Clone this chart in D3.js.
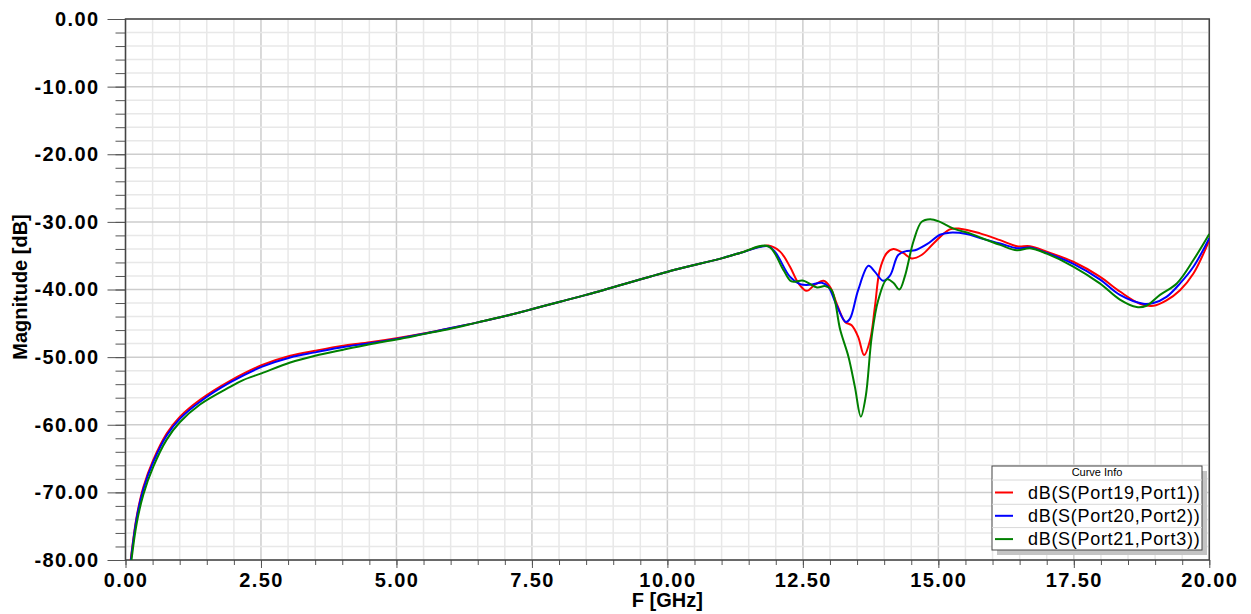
<!DOCTYPE html>
<html>
<head>
<meta charset="utf-8">
<script src="https://cdn.jsdelivr.net/npm/d3@7"></script>
<style>
  body { margin: 0; background: #fff; }
  svg { display: block; font-family: "Liberation Sans", Arial, sans-serif; }
</style>
</head>
<body>
<svg id="chart" width="1251" height="614"></svg>
<script>
// S-parameter curves (GHz, dB)
var freq19 = [0.096, 0.206, 0.33, 0.513, 0.76, 1.006, 1.375, 1.93, 2.51, 3.04, 3.5, 4.02, 4.51, 5.0, 5.5, 6.0, 6.48, 6.97, 7.46, 8.02, 8.5, 9.99, 11.0, 11.34, 11.86, 12.08, 12.26, 12.42, 12.57, 12.72, 12.88, 13.0, 13.12, 13.28, 13.40, 13.52, 13.63, 13.74, 13.83, 13.92, 14.05, 14.17, 14.35, 14.51, 14.69, 14.91, 15.21, 15.40, 15.77, 16.14, 16.45, 16.69, 17.0, 17.49, 17.98, 18.35, 18.72, 18.97, 19.21, 19.46, 19.71, 20.0];
var mag19  = [-80, -73.6, -69.2, -65.2, -61.3, -58.8, -56.3, -53.5, -51.2, -49.8, -49.05, -48.3, -47.8, -47.2, -46.5, -45.7, -44.9, -44.0, -43.0, -41.8, -40.8, -37.4, -35.4, -34.6, -33.5, -34.4, -36.6, -39.1, -40.2, -39.3, -38.7, -39.6, -42.0, -44.8, -45.3, -47.0, -49.7, -47.5, -42.5, -37.1, -34.6, -34.0, -34.6, -35.4, -34.9, -33.2, -31.1, -31.0, -31.7, -32.7, -33.6, -33.6, -34.4, -35.9, -38.1, -40.3, -42.1, -42.4, -41.6, -40.1, -37.6, -32.7];

var freq20 = [0.1, 0.206, 0.33, 0.513, 0.76, 1.006, 1.375, 1.93, 2.51, 3.04, 3.5, 4.02, 4.51, 5.0, 5.5, 6.0, 6.48, 6.97, 7.46, 8.02, 8.5, 9.99, 11.0, 11.34, 11.86, 12.0, 12.26, 12.45, 12.63, 12.85, 12.97, 13.12, 13.29, 13.37, 13.52, 13.71, 13.83, 13.98, 14.11, 14.26, 14.42, 14.57, 14.79, 15.03, 15.21, 15.52, 15.77, 16.14, 16.45, 16.69, 17.0, 17.49, 17.98, 18.35, 18.78, 18.97, 19.21, 19.46, 19.71, 20.0];
var mag20  = [-80, -73.8, -69.5, -65.5, -61.6, -59.1, -56.6, -53.75, -51.45, -50.05, -49.3, -48.5, -47.95, -47.3, -46.55, -45.7, -44.9, -44.0, -43.0, -41.8, -40.8, -37.4, -35.4, -34.6, -33.6, -34.6, -38.1, -39.2, -39.3, -39.0, -39.6, -42.3, -44.8, -44.3, -40.1, -36.5, -37.4, -38.7, -37.9, -34.9, -34.3, -34.2, -33.3, -31.9, -31.6, -31.8, -32.4, -33.2, -33.9, -33.8, -34.6, -36.2, -38.5, -40.8, -42.1, -42.0, -41.1, -39.1, -36.6, -32.4];

var freq21 = [0.11, 0.206, 0.33, 0.513, 0.76, 1.006, 1.375, 1.93, 2.17, 2.51, 3.04, 3.5, 4.02, 4.51, 5.0, 5.5, 6.0, 6.48, 6.97, 7.46, 8.02, 8.5, 9.99, 11.0, 11.34, 11.86, 12.14, 12.29, 12.51, 12.76, 12.91, 13.03, 13.19, 13.34, 13.46, 13.57, 13.66, 13.77, 13.89, 14.05, 14.17, 14.28, 14.38, 14.54, 14.69, 14.85, 15.03, 15.28, 15.58, 15.77, 16.14, 16.45, 16.69, 17.0, 17.49, 17.98, 18.35, 18.66, 18.84, 19.09, 19.40, 19.71, 20.0];
var mag21  = [-80, -74.6, -70.3, -66.2, -62.2, -59.6, -57.0, -54.4, -53.4, -52.4, -50.8, -49.8, -48.9, -48.1, -47.4, -46.6, -45.8, -44.9, -44.0, -43.0, -41.8, -40.8, -37.4, -35.4, -34.6, -33.6, -37.1, -38.8, -38.7, -39.7, -39.5, -40.1, -46.0, -49.9, -54.4, -58.8, -55.8, -47.0, -41.6, -38.5, -39.0, -40.0, -38.1, -32.9, -30.0, -29.6, -30.0, -31.0, -31.7, -32.3, -33.4, -34.2, -33.9, -34.7, -36.6, -39.1, -41.5, -42.6, -42.4, -40.8, -39.1, -35.6, -31.8];

var seriesNames  = ["dB(S(Port19,Port1))", "dB(S(Port20,Port2))", "dB(S(Port21,Port3))"];
var seriesColors = ["#ff0000", "#0000ff", "#008000"];

var xTicks = [0, 2.5, 5, 7.5, 10, 12.5, 15, 17.5, 20];
var yTicks = [0, -10, -20, -30, -40, -50, -60, -70, -80];

var series = [
  {name: seriesNames[0], color: seriesColors[0], pts: d3.zip(freq19, mag19)},
  {name: seriesNames[1], color: seriesColors[1], pts: d3.zip(freq20, mag20)},
  {name: seriesNames[2], color: seriesColors[2], pts: d3.zip(freq21, mag21)}
];

var svg = d3.select("#chart");
var pLeft = 125.5, pRight = 1209.3, pTop = 19, pBottom = 560;

var x = d3.scaleLinear().domain([0, 20]).range([pLeft, pRight]);
var y = d3.scaleLinear().domain([-80, 0]).range([pBottom, pTop]);

function fmt(d) { return d.toFixed(2); }  // plain hyphen, not d3's minus sign

// grid: minor every 0.5 GHz / 2 dB, major on labelled ticks
var xMinor = d3.range(0, 20.01, 0.5);
var yMinor = d3.range(-80, 0.01, 2);

var g = svg.append("g");
xMinor.forEach(function(v) {
  var major = Math.abs(v / 2.5 - Math.round(v / 2.5)) < 1e-6;
  g.append("line").attr("x1", x(v)).attr("x2", x(v)).attr("y1", pTop).attr("y2", pBottom)
    .attr("stroke", major ? "#cdcdcd" : "#e8e8e8").attr("stroke-width", 1.5);
});
yMinor.forEach(function(v) {
  var major = v % 10 == 0;
  g.append("line").attr("x1", pLeft).attr("x2", pRight).attr("y1", y(v)).attr("y2", y(v))
    .attr("stroke", major ? "#cdcdcd" : "#e8e8e8").attr("stroke-width", 1.5);
});

// minor ticks
svg.append("g").attr("transform", "translate(0," + pBottom + ")")
  .call(d3.axisBottom(x).tickValues(xMinor).tickSize(5).tickFormat(""))
  .call(function(a) { a.select(".domain").remove(); a.selectAll("line").attr("stroke", "#555"); });
svg.append("g").attr("transform", "translate(" + pLeft + ",0)")
  .call(d3.axisLeft(y).tickValues(yMinor).tickSize(10).tickFormat(""))
  .call(function(a) { a.select(".domain").remove(); a.selectAll("line").attr("stroke", "#555"); });

// major ticks + labels
var xAxis = svg.append("g").attr("transform", "translate(0," + pBottom + ")")
  .call(d3.axisBottom(x).tickValues(xTicks).tickSize(8).tickPadding(5).tickFormat(fmt));
xAxis.select(".domain").remove();
xAxis.selectAll("line").attr("stroke", "#555");
xAxis.selectAll("text").attr("font-size", 20).attr("font-weight", "bold").attr("fill", "#000")
  .attr("font-family", "Liberation Sans, Arial, sans-serif").style("letter-spacing", "1.4px");

var yAxis = svg.append("g").attr("transform", "translate(" + pLeft + ",0)")
  .call(d3.axisLeft(y).tickValues(yTicks).tickSize(18).tickPadding(8).tickFormat(fmt));
yAxis.select(".domain").remove();
yAxis.selectAll("line").attr("stroke", "#555");
yAxis.selectAll("text").attr("font-size", 20).attr("font-weight", "bold").attr("fill", "#000")
  .attr("font-family", "Liberation Sans, Arial, sans-serif").style("letter-spacing", "1.4px");

// frame
svg.append("rect").attr("x", pLeft).attr("y", pTop).attr("width", pRight - pLeft).attr("height", pBottom - pTop)
  .attr("fill", "none").attr("stroke", "#444").attr("stroke-width", 1.5);

// curves
svg.append("defs").append("clipPath").attr("id", "clip")
  .append("rect").attr("x", pLeft).attr("y", pTop).attr("width", pRight - pLeft).attr("height", pBottom - pTop);

var line = d3.line()
  .x(function(d) { return x(d[0]); })
  .y(function(d) { return y(d[1]); })
  .curve(d3.curveCatmullRom.alpha(0.5));

svg.append("g").attr("clip-path", "url(#clip)")
  .selectAll("path").data(series).enter().append("path")
  .attr("d", function(d) { return line(d.pts); })
  .attr("fill", "none")
  .attr("stroke", function(d) { return d.color; })
  .attr("stroke-width", 2);

// axis titles
svg.append("text").attr("x", (pLeft + pRight) / 2).attr("y", 607)
  .attr("text-anchor", "middle").attr("font-size", 20).attr("font-weight", "bold")
  .text("F [GHz]");
svg.append("text").attr("transform", "translate(27,287) rotate(-90)")
  .attr("text-anchor", "middle").attr("font-size", 20).attr("font-weight", "bold")
  .text("Magnitude [dB]");

// legend
var lx = 992, ly = 466, lw = 210, lh = 84;
var leg = svg.append("g");
leg.append("rect").attr("x", lx + 5).attr("y", ly + 5).attr("width", lw).attr("height", lh).attr("fill", "#c4c4c4");
leg.append("rect").attr("x", lx).attr("y", ly).attr("width", lw).attr("height", lh)
  .attr("fill", "#fff").attr("stroke", "#444").attr("stroke-width", 1);
leg.append("text").attr("x", lx + lw / 2).attr("y", ly + 10).attr("text-anchor", "middle")
  .attr("font-size", 11).text("Curve Info");
leg.append("line").attr("x1", lx).attr("x2", lx + lw).attr("y1", ly + 14).attr("y2", ly + 14)
  .attr("stroke", "#d8d8d8");
series.forEach(function(s, i) {
  var cy = ly + 26.5 + i * 23.3;
  if (i > 0)
    leg.append("line").attr("x1", lx).attr("x2", lx + lw).attr("y1", cy - 11.5).attr("y2", cy - 11.5)
      .attr("stroke", "#d8d8d8");
  leg.append("line").attr("x1", lx + 3).attr("x2", lx + 21).attr("y1", cy).attr("y2", cy)
    .attr("stroke", s.color).attr("stroke-width", 2);
  leg.append("text").attr("x", lx + 36).attr("y", cy + 6).attr("font-size", 18)
    .style("letter-spacing", "0.7px").text(s.name);
});
</script>
</body>
</html>
